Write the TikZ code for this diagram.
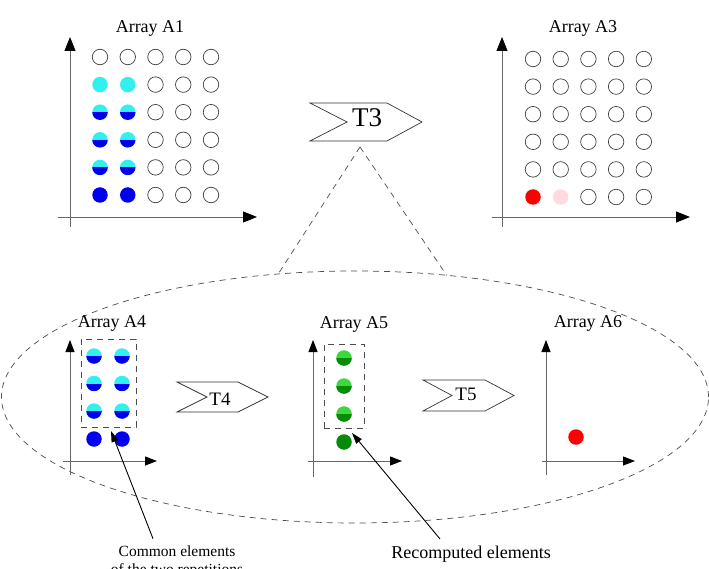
\documentclass[tikz,border=0pt]{standalone}
\usepackage{fontspec}
\setmainfont{Liberation Serif}
\usetikzlibrary{arrows.meta,shapes.geometric}
\definecolor{lcyan}{HTML}{33F0F0}
\definecolor{dblue}{HTML}{0000EE}
\definecolor{lgreen}{HTML}{3CD83C}
\definecolor{dgreen}{HTML}{078A07}
\definecolor{lpink}{HTML}{FFDADF}

\begin{document}
\begin{tikzpicture}[x=1pt,y=-1pt,
    dot/.style={circle,inner sep=0pt,outer sep=0pt,minimum size=15.5pt},
    empty/.style={dot,draw=black!75,line width=0.7pt},
    half/.style 2 args={dot,fill=#1,path picture={\fill[#2] (path picture bounding box.west) rectangle (path picture bounding box.south east);}},
    axis/.style={draw=black!60,line width=0.9pt,-{Triangle[length=14pt,width=11pt,color=black]}},
    saxis/.style={draw=black!60,line width=0.9pt,-{Triangle[length=12pt,width=9pt,color=black]}},
    tagbox/.style={draw=black!80,line width=0.7pt,fill=white},
    dashline/.style={draw=black!70,line width=0.7pt,dash pattern=on 6pt off 5pt},
    ptr/.style={draw=black,line width=0.9pt,-{Triangle[length=11pt,width=7pt]}},
    title/.style={anchor=base,font=\fontsize{18}{20}\selectfont}]
\useasboundingbox (0,0) rectangle (709,569);

% repetition ellipse and its link to T3
\node[ellipse,dashline,minimum width=707pt,minimum height=252pt,inner sep=0pt,outer sep=0pt] (rep) at (355,397) {};
\coordinate (apex) at (360,147);
\draw[dashline] (apex) -- (rep.122);
\draw[dashline] (apex) -- (rep.53);

% Array A1
\draw[axis] (70,227) -- (70,37);
\draw[axis] (58,217) -- (257,217);
\node[title] (a1) at (150,33) {Array A1};
\foreach \c in {0,...,4}
  \node[empty] (a1-0-\c) at ({100+27.75*\c},57) {};
\foreach \r in {1,...,5}
  \foreach \c in {2,3,4}
    \node[empty] (a1-\r-\c) at ({100+27.75*\c},{57+27.6*\r}) {};
\foreach \c in {0,1} {
  \node[dot,fill=lcyan] (a1-1-\c) at ({100+27.75*\c},84.6) {};
  \node[half={lcyan}{dblue}] (a1-2-\c) at ({100+27.75*\c},112.2) {};
  \node[half={lcyan}{dblue}] (a1-3-\c) at ({100+27.75*\c},139.8) {};
  \node[half={lcyan}{dblue}] (a1-4-\c) at ({100+27.75*\c},167.4) {};
  \node[dot,fill=dblue] (a1-5-\c) at ({100+27.75*\c},195) {};
}

% T3
\draw[tagbox] (310,103) -- (387,103) -- (422,122) -- (387,141) -- (310,141) -- (347,122) -- cycle;
\node[anchor=base,font=\fontsize{27}{30}\selectfont] (t3) at (367,127) {T3};

% Array A3
\draw[axis] (502,227) -- (502,37);
\draw[axis] (492,217) -- (690,217);
\node[title] (a3) at (583,33) {Array A3};
\foreach \r in {0,...,4}
  \foreach \c in {0,...,4}
    \node[empty] (a3-\r-\c) at ({533+27.7*\c},{59+27.6*\r}) {};
\node[dot,fill=red] (a3-5-0) at (533,197) {};
\node[dot,fill=lpink] (a3-5-1) at (560.7,197) {};
\foreach \c in {2,3,4}
  \node[empty] (a3-5-\c) at ({533+27.7*\c},197) {};

% Array A4
\draw[saxis] (70,475) -- (70,340);
\draw[saxis] (63,461) -- (157,461);
\node[title] (a4) at (112,327) {Array A4};
\foreach \c in {0,1} {
  \node[half={lcyan}{dblue}] (a4-0-\c) at ({94+28*\c},356) {};
  \node[half={lcyan}{dblue}] (a4-1-\c) at ({94+28*\c},383.5) {};
  \node[half={lcyan}{dblue}] (a4-2-\c) at ({94+28*\c},411) {};
  \node[dot,fill=dblue] (a4-3-\c) at ({94+28*\c},439) {};
}
\node[dashline,minimum width=55pt,minimum height=88pt,inner sep=0pt,outer sep=0pt] (box4) at (108.5,383) {};

% T4
\draw[tagbox] (177,382) -- (238,382) -- (268,397) -- (238,412) -- (177,412) -- (207,397) -- cycle;
\node[anchor=base,font=\fontsize{19}{21}\selectfont] (t4) at (220,405) {T4};

% Array A5
\draw[saxis] (313,477) -- (313,340);
\draw[saxis] (308,461) -- (402,461);
\node[title] (a5) at (354,328) {Array A5};
\node[half={lgreen}{dgreen}] (a5-0) at (344,358) {};
\node[half={lgreen}{dgreen}] (a5-1) at (344,386) {};
\node[half={lgreen}{dgreen}] (a5-2) at (344,414) {};
\node[dot,fill=dgreen] (a5-3) at (344,442) {};
\node[dashline,minimum width=40pt,minimum height=84pt,inner sep=0pt,outer sep=0pt] (box5) at (344,386) {};

% T5
\draw[tagbox] (423,380) -- (485,380) -- (514,395.5) -- (485,411) -- (423,411) -- (452,395.5) -- cycle;
\node[anchor=base,font=\fontsize{19}{21}\selectfont] (t5) at (466,400) {T5};

% Array A6
\draw[saxis] (546,475) -- (546,340);
\draw[saxis] (542,461) -- (635,461);
\node[title] (a6) at (588,327) {Array A6};
\node[dot,fill=red] (a6-0) at (576,437) {};

% notes
\node[anchor=base,font=\fontsize{15.5}{18}\selectfont] (common) at (177,556) {Common elements};
\node[anchor=base,font=\fontsize{15.5}{18}\selectfont] (common2) at (177,574) {of the two repetitions};
\node[anchor=base,font=\fontsize{18}{20}\selectfont] (recomp) at (471,558) {Recomputed elements};
\draw[ptr] ([xshift=-24pt,yshift=3pt]common.north) -- ([xshift=2.5pt,yshift=-4pt]box4.south);
\draw[ptr] ([xshift=-31pt,yshift=3pt]recomp.north) -- ([xshift=8pt,yshift=-5pt]box5.south);
\end{tikzpicture}
\end{document}
